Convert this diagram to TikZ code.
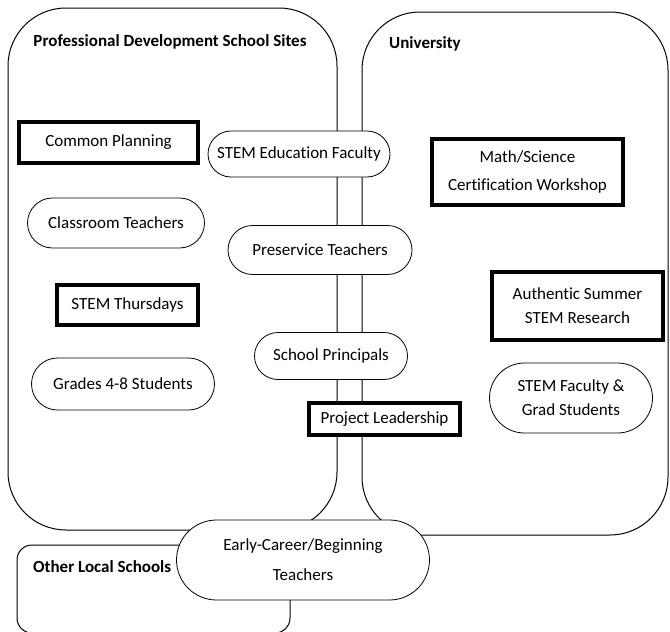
\documentclass[tikz,border=0pt]{standalone}
\usepackage{fontspec}
\setmainfont{Carlito}[Ligatures={NoCommon}]
\usetikzlibrary{shapes.misc}

\begin{document}
\begin{tikzpicture}[x=1pt,y=-1pt]

        % Define node styles
        \tikzstyle{region} = [draw, line width=1pt, rounded corners=58pt, inner sep=0pt]
        \tikzstyle{pill} = [rounded rectangle, draw, fill=white, line width=0.8pt, inner sep=0pt, align=center, font=\fontsize{17}{20}\selectfont]
        \tikzstyle{activity} = [rectangle, draw, fill=white, line width=4pt, inner sep=0pt, align=center, font=\fontsize{17}{20}\selectfont]
        \tikzstyle{title} = [font=\bfseries\fontsize{17}{20}\selectfont, inner sep=0pt]

        \useasboundingbox (0,0) rectangle (670,632);

        % Regions
        \node[region, minimum width=329pt, minimum height=522pt] (pds) at (172.5,269) {};
        \node[region, minimum width=306pt, minimum height=523pt] (univ) at (515,273.5) {};
        \node[region, rounded corners=15pt, minimum width=273pt, minimum height=88pt] (other) at (153.5,589) {};

        % Region titles
        \node[title] (pdstitle) at (170,42) {Professional Development School Sites};
        \node[title, anchor=west] (univtitle) at (389,44) {University};
        \node[title, anchor=west] (othertitle) at (33,567) {Other Local Schools};

        % School side
        \node[activity, minimum width=179pt, minimum height=41pt] (planning) at (108.5,142.5) {Common Planning};
        \node[pill, minimum width=177pt, minimum height=50pt] (classroom) at (116,223) {Classroom Teachers};
        \node[activity, minimum width=141pt, minimum height=40pt] (thursdays) at (127.5,305) {STEM Thursdays};
        \node[pill, minimum width=183pt, minimum height=52pt] (students) at (123,384) {Grades 4-8 Students};

        % Shared middle
        \node[pill, minimum width=182pt, minimum height=46pt] (faculty) at (299,154) {STEM Education Faculty};
        \node[pill, minimum width=184pt, minimum height=49pt] (preservice) at (320,250) {Preservice Teachers};
        \node[pill, minimum width=153pt, minimum height=47pt] (principals) at (331,356) {School Principals};
        \node[activity, minimum width=151pt, minimum height=32pt] (leadership) at (384.5,419) {Project Leadership};

        % University side
        \node[activity, minimum width=191pt, minimum height=66pt] (workshop) at (527.5,172) {Math/Science\\[8pt]Certification Workshop};
        \node[activity, minimum width=171pt, minimum height=68pt] (research) at (577.5,306) {Authentic Summer\\[4pt]STEM Research};
        \node[pill, minimum width=163pt, minimum height=70pt] (grad) at (571,398) {STEM Faculty \&\\[4pt]Grad Students};

        % Bridging node
        \node[pill, minimum width=253pt, minimum height=80pt] (early) at (303,560) {Early-Career/Beginning\\[10pt]Teachers};

    \end{tikzpicture}
\end{document}
